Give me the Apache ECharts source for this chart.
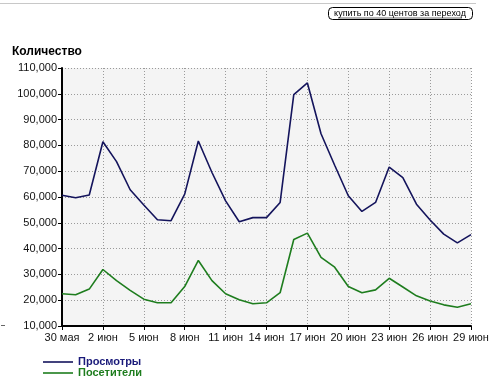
<!DOCTYPE html>
<html>
<head>
<meta charset="utf-8">
<script src="https://cdn.jsdelivr.net/npm/echarts@6/dist/echarts.min.js"></script>
<style>html,body{margin:0;padding:0;background:#fff;}#c{width:500px;height:388px;}</style>
</head>
<body>
<div id="c"></div>
<script>
var categories = ["30 мая","31 мая","1 июн","2 июн","3 июн","4 июн","5 июн","6 июн","7 июн","8 июн","9 июн","10 июн","11 июн","12 июн","13 июн","14 июн","15 июн","16 июн","17 июн","18 июн","19 июн","20 июн","21 июн","22 июн","23 июн","24 июн","25 июн","26 июн","27 июн","28 июн","29 июн"];
var views = [60700,59700,60800,81400,73700,62800,56900,51200,50800,61100,81700,69500,58500,50400,52000,52000,57900,99700,104200,84500,72300,60500,54400,57900,71600,67500,57200,51100,45600,42200,45400];
var visitors = [22500,22100,24300,31900,27600,23800,20400,19000,19000,25300,35400,27600,22500,20200,18600,19000,22900,43500,46000,36600,32800,25300,22900,24000,28500,25100,21700,19700,18200,17300,18600];
var seriesNames = ["Просмотры","Посетители"];
var yTitle = "Количество";
var buttonText = "купить по 40 центов за переход";

var FONT = "Liberation Sans, Arial, sans-serif";
var chart = echarts.init(document.getElementById('c'), null, {renderer:'canvas'});
chart.setOption({
  animation:false,
  backgroundColor:'#fff',
  title:{text:yTitle,left:7,top:41,textStyle:{fontFamily:FONT,fontSize:12,fontWeight:'bold',color:'#000'}},
  grid:{left:62,right:29,top:68,bottom:62,show:true,backgroundColor:'#f4f4f4',borderWidth:0},
  legend:{orient:'vertical',left:38,top:351,itemWidth:30,itemHeight:10,itemGap:-1,
    icon:'path://M0,4.2H30V5.8H0Z',
    data:[{name:seriesNames[0],textStyle:{color:'#1a1a7a'}},{name:seriesNames[1],textStyle:{color:'#1e7d1e'}}],
    textStyle:{fontFamily:FONT,fontSize:11,fontWeight:'bold',lineHeight:12}},
  xAxis:{type:'category',data:categories,boundaryGap:false,
    axisLine:{lineStyle:{color:'#000',width:2}},
    axisTick:{interval:2,length:4,lineStyle:{color:'#000'}},
    axisLabel:{interval:2,fontFamily:FONT,fontSize:11,color:'#111',margin:6},
    splitLine:{show:true,interval:2,lineStyle:{color:'#9a9a9a',type:[1,2],width:1}}},
  yAxis:{type:'value',min:10000,max:110000,interval:10000,
    axisLine:{show:true,lineStyle:{color:'#000',width:2}},
    axisTick:{show:true,length:4,lineStyle:{color:'#000'}},
    axisLabel:{fontFamily:FONT,fontSize:11,color:'#111',margin:5,
      formatter:function(v){return v.toString().replace(/\B(?=(\d{3})+(?!\d))/g,',');}},
    splitLine:{show:true,lineStyle:{color:'#9a9a9a',type:[1,2],width:1}}},
  series:[
    {name:seriesNames[0],type:'line',data:views,symbol:'none',lineStyle:{color:'#14145c',width:1.6},itemStyle:{color:'#14145c'}},
    {name:seriesNames[1],type:'line',data:visitors,symbol:'none',lineStyle:{color:'#1e7d1e',width:1.6},itemStyle:{color:'#1e7d1e'}}
  ],
  graphic:[
    {type:'line',shape:{x1:0,y1:3.5,x2:476,y2:3.5},style:{stroke:'#c8c8c8',lineWidth:1}},
    {type:'rect',shape:{x:328.5,y:7.5,width:144,height:12,r:4},style:{fill:'#fff',stroke:'#000',lineWidth:1}},
    {type:'text',x:400,y:13.5,style:{text:buttonText,fontFamily:FONT,fontSize:9,fill:'#000',align:'center',verticalAlign:'middle'}},
    {type:'line',shape:{x1:338,y1:18,x2:462,y2:18},style:{stroke:'#000',lineWidth:0.6}},
    {type:'line',shape:{x1:1,y1:325.5,x2:5,y2:325.5},style:{stroke:'#666',lineWidth:1}}
  ]
});
</script>
</body>
</html>
